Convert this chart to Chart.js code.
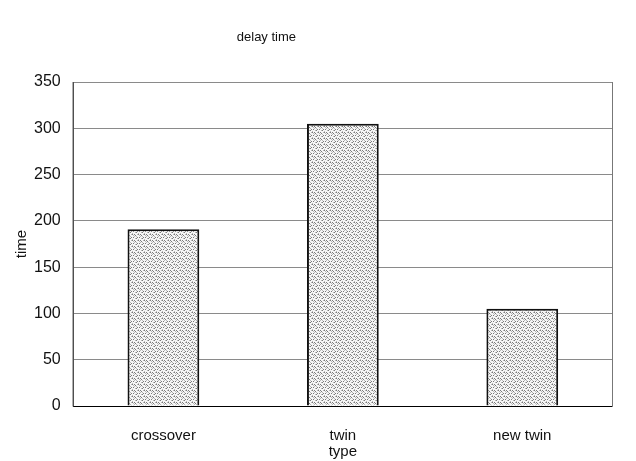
<!DOCTYPE html>
<html>
<head>
<meta charset="utf-8">
<script src="https://cdn.jsdelivr.net/npm/chart.js@4.4.0/dist/chart.umd.min.js"></script>
<style>
  html, body { margin: 0; padding: 0; background: #fff; }
  #wrap { width: 636px; height: 461px; position: relative; }
</style>
</head>
<body>
<div id="wrap"><canvas id="c"></canvas></div>
<script>
const categories = ['crossover', 'twin', 'new twin'];
const delayValues = [191, 305, 105];
const yTicks = [0, 50, 100, 150, 200, 250, 300, 350];
const chartTitle = 'delay time';

// stippled grey fill for the bars
function stipple() {
  const t = document.createElement('canvas');
  t.width = 6; t.height = 6;
  const g = t.getContext('2d');
  g.fillStyle = '#f6f6f6';
  g.fillRect(0, 0, 6, 6);
  g.fillStyle = '#7a7a7a';
  [[0,0],[3,1],[1,3],[4,4],[2,0],[5,3]].forEach(([x, y]) => g.fillRect(x, y, 1, 1));
  g.fillStyle = '#b8b8b8';
  [[1,1],[4,2],[0,5],[3,4],[5,0],[2,2]].forEach(([x, y]) => g.fillRect(x, y, 1, 1));
  return g.createPattern(t, 'repeat');
}

const font = "'Liberation Sans', Arial, sans-serif";

// plot frame plus the heading, which sits left of centre above the plot
const frame = {
  id: 'frame',
  afterDraw(chart) {
    const { ctx, chartArea: a } = chart;
    ctx.save();
    ctx.strokeStyle = '#777';
    ctx.lineWidth = 1;
    ctx.beginPath();
    ctx.moveTo(a.right + 0.5, a.top);
    ctx.lineTo(a.right + 0.5, a.bottom);
    ctx.stroke();
    ctx.strokeStyle = '#000';
    ctx.beginPath();
    ctx.moveTo(a.left - 0.5, a.top);
    ctx.lineTo(a.left - 0.5, a.bottom + 0.5);
    ctx.lineTo(a.right + 0.5, a.bottom + 0.5);
    ctx.stroke();
    ctx.fillStyle = '#111';
    ctx.font = '13px ' + font;
    ctx.textAlign = 'center';
    ctx.textBaseline = 'middle';
    ctx.fillText(chartTitle, a.left + (a.right - a.left) * 0.358, a.top - 45);
    ctx.restore();
  }
};

new Chart(document.getElementById('c'), {
  type: 'bar',
  data: {
    labels: categories,
    datasets: [{
      data: delayValues,
      backgroundColor: stipple(),
      borderColor: '#111',
      borderWidth: 2,
      borderSkipped: 'bottom',
      barPercentage: 0.4,
      categoryPercentage: 1
    }]
  },
  options: {
    responsive: true,
    maintainAspectRatio: false,
    animation: false,
    layout: { padding: { left: 13, right: 24, top: 82, bottom: 1 } },
    plugins: {
      legend: { display: false },
      tooltip: { enabled: false },
      title: { display: false }
    },
    scales: {
      x: {
        grid: { display: false, drawTicks: false },
        border: { display: false },
        ticks: { color: '#111', padding: 21, font: { family: font, size: 15 } },
        title: { display: true, text: 'type', color: '#111', font: { family: font, size: 15 }, padding: { top: -23, bottom: -1 } }
      },
      y: {
        min: 0, max: 350,
        afterBuildTicks(axis) { axis.ticks = yTicks.map(v => ({ value: v })); },
        grid: { color: '#8a8a8a', lineWidth: 1, drawTicks: false },
        border: { display: false },
        ticks: { color: '#111', padding: 13, font: { family: font, size: 16 } },
        title: { display: true, text: 'time', color: '#111', font: { family: font, size: 15 }, padding: { top: 0, bottom: -10 } }
      }
    }
  },
  plugins: [frame]
});
</script>
</body>
</html>
